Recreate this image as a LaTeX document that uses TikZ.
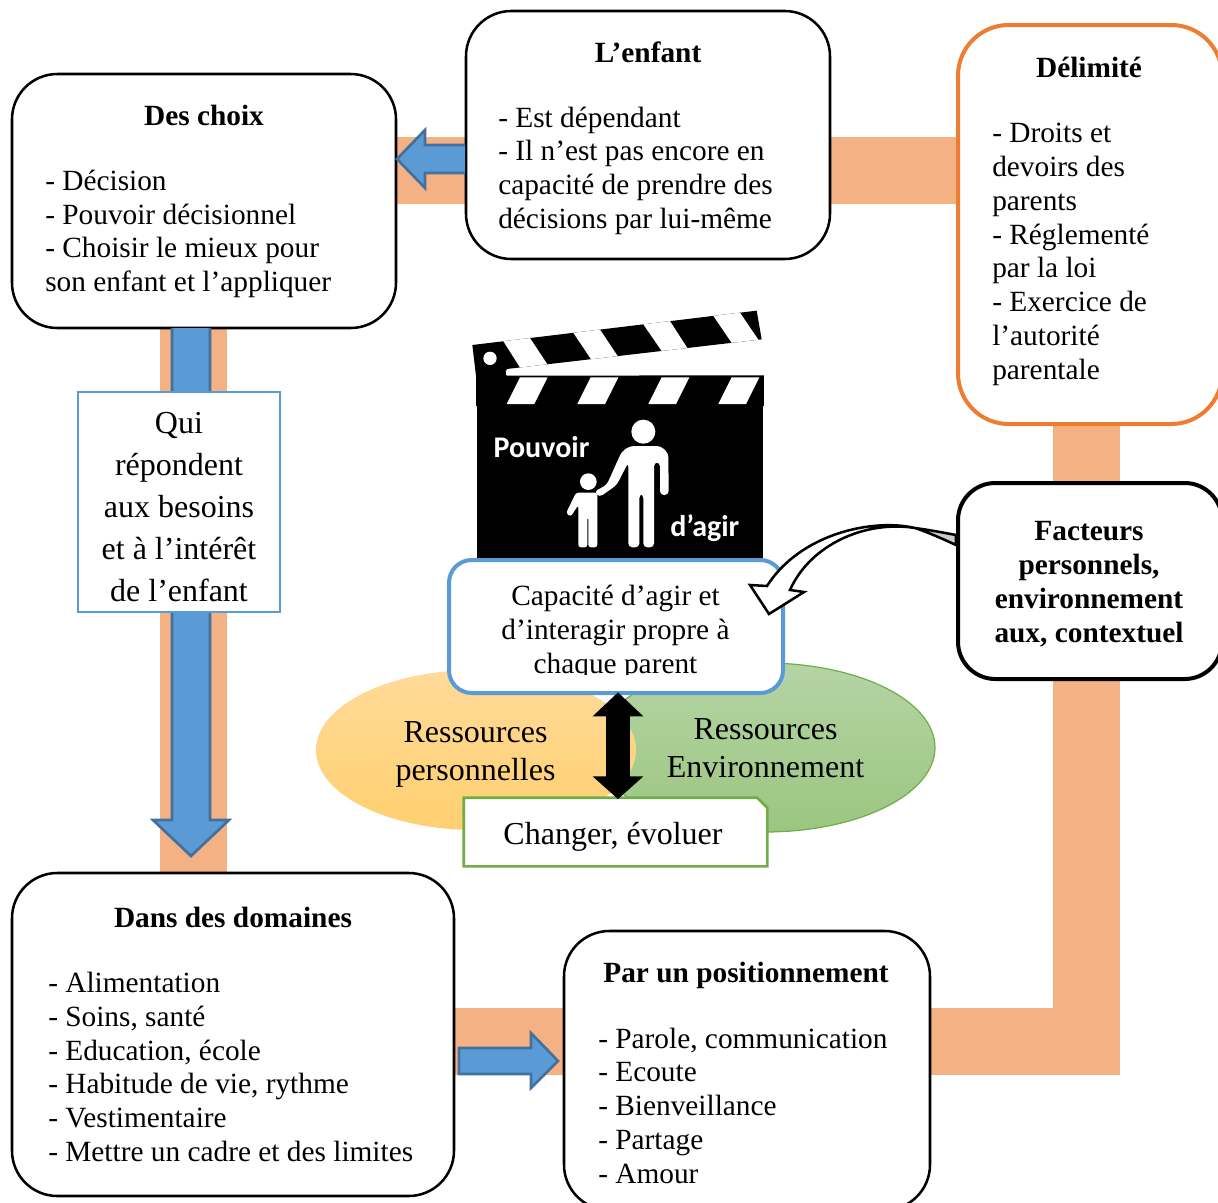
\documentclass[tikz,border=0pt]{standalone}
\usepackage{fontspec}
\setmainfont{Liberation Serif}
\newfontfamily\carl{Carlito}
\usetikzlibrary{backgrounds,shapes.geometric,arrows.meta,calc}
\definecolor{bandc}{HTML}{F4B183}
\definecolor{bluec}{HTML}{5B9BD5}
\definecolor{blueline}{HTML}{41719C}
\definecolor{orangec}{HTML}{ED7D31}
\definecolor{greenc}{HTML}{70AD47}
\tikzset{
  x=0.75pt,y=-0.75pt,
  boxnode/.style={draw=black,line width=1.9pt,fill=white,rounded corners=34pt,inner sep=0pt},
  band/.style={draw=bandc,line width=50.25pt,line join=miter},
  blockarrow/.style={fill=bluec,draw=blueline,line width=2pt,line join=miter},
  bodytxt/.style={anchor=north west,inner sep=0pt,align=left,font=\fontsize{22}{25.3}\selectfont},
  ctxt/.style={anchor=north,inner sep=0pt,align=center,font=\fontsize{22}{25.3}\selectfont},
  ttl/.style={anchor=base,inner sep=0pt,font=\fontsize{22}{25.3}\selectfont\bfseries},
  big/.style={anchor=north,inner sep=0pt,align=center,font=\fontsize{24}{#1}\selectfont},
  ribbon/.style={draw=black,line width=1.9pt,line join=miter},
}
\begin{document}
\begin{tikzpicture}
\clip (0,0) rectangle (1218,1203);
% clapperboard
\begin{scope}[shift={(440,300)},x=0.25pt,y=-0.25pt]
  \fill[black] (110,315) rectangle (968,775);
  \fill[black] (108,225) rectangle (972,318);
  \fill[black] (97,135) -- (950,32) -- (965,118) -- (200,207) -- (197,228) -- (108,228) -- cycle;
  \fill[white] (197,213) -- (965,122) -- (972,226) -- (200,227) -- cycle;
  \fill[black] (200,228) rectangle (972,318);
  \foreach \a/\b/\c/\d in {190/270/322/240,400/480/533/453,610/690/742/665,820/900/955/875}{
    \pgfmathsetmacro{\ya}{135-(\a-97)*0.1208}
    \pgfmathsetmacro{\yb}{135-(\b-97)*0.1208}
    \pgfmathsetmacro{\yc}{207-(\c-200)*0.1164}
    \pgfmathsetmacro{\yd}{207-(\d-200)*0.1164}
    \fill[white] (\a,\ya) -- (\b,\yb) -- (\c,\yc) -- (\d,\yd) -- cycle;
  }
  \foreach \a in {200,412,625,835}{
    \fill[white] (\a,312) -- (\a+40,232) -- (\a+123,232) -- (\a+83,312) -- cycle;
  }
  \fill[white] (150,175) circle (20);
  \fill[white] (610,395) circle (36);
  \fill[white,rounded corners=3pt] (570,438) -- (662,438) -- (685,460) -- (686,585) -- (660,585) -- (660,487) -- (642,487) -- (642,742) -- (610,742) -- (610,582) -- (598,582) -- (598,742) -- (565,742) -- (565,487) -- (530,555) -- (478,592) -- (462,575) -- (500,555) -- (545,455) -- cycle;
  \fill[white] (445,545) circle (25);
  \fill[white,rounded corners=2pt] (408,578) -- (472,578) -- (472,742) -- (445,742) -- (445,650) -- (442,650) -- (442,742) -- (415,742) -- (415,615) -- (392,650) -- (378,640) -- cycle;
  \node (pouv) [anchor=base west,inner sep=0pt,text=white,font=\fontsize{22.5}{24}\selectfont\carl\bfseries] at (160,472) {Pouvoir};
  \node (dag) [anchor=base west,inner sep=0pt,text=white,font=\fontsize{22.5}{24}\selectfont\carl\bfseries] at (690,708) {d’agir};
\end{scope}
% ellipses
\node (resE) [ellipse,draw=greenc,line width=0.9pt,inner sep=0pt,minimum width=255pt,minimum height=126.75pt,top color={rgb,255:red,181;green,212;blue,165},bottom color={rgb,255:red,155;green,198;blue,128}] at (765,747.5) {};
\node (resP) [ellipse,inner sep=0pt,minimum width=240pt,minimum height=120pt,top color={rgb,255:red,255;green,218;blue,153},bottom color={rgb,255:red,255;green,208;blue,112}] at (476,750) {};
% boxes
\node (choix) [boxnode,minimum width=288pt,minimum height=190.5pt] at (204,201) {};
\node (enfant) [boxnode,minimum width=273pt,minimum height=186pt] at (648,135) {};
\node (delim) [boxnode,draw=orangec,line width=3pt,rounded corners=38pt,minimum width=198pt,minimum height=299.25pt] at (1090,224.5) {};
\node (fact) [boxnode,line width=3pt,rounded corners=28pt,minimum width=198pt,minimum height=147pt] at (1090,581) {};
\node (dans) [boxnode,minimum width=331.5pt,minimum height=242.25pt] at (233,1034.5) {};
\node (par) [boxnode,minimum width=274.5pt,minimum height=209.25pt] at (747,1070.5) {};
% bands
\begin{scope}[on background layer]
  \draw[band] (choix.center |- 0,170.5) -- (delim.center |- 0,170.5);
  \draw[band] (193.5,0 |- choix.south) -- (193.5,0 |- dans.north);
  \draw[band] (dans.center |- 0,1041.5) -- (par.center |- 0,1041.5);
  \draw[band] (par.center |- 0,1041.5) -| (1086.5,0 |- delim.south);
\end{scope}
% block arrows
\draw[blockarrow] (465,145) -- (425,145) -- (425,130) -- (397,159) -- (425,188) -- (425,173) -- (465,173);
\draw[blockarrow] (172,328) -- (172,820) -- (153,820) -- (191,856) -- (229,820) -- (210,820) -- (210,328);
\draw[blockarrow] (459,1048) -- (531,1048) -- (531,1033) -- (558,1061) -- (531,1088) -- (531,1074) -- (459,1074) -- cycle;
\node (qui) [draw=bluec,line width=1.9pt,fill=white,inner sep=0pt,minimum width=151.5pt,minimum height=165pt] at (179,502) {};
\node (capa) [boxnode,draw=bluec,line width=3pt,rounded corners=17pt,minimum width=250.5pt,minimum height=99.75pt] at (616,626.5) {};
\node (chg) [inner sep=0pt,minimum width=227.25pt,minimum height=51pt] at (615.5,832) {};
\draw[draw=greenc,line width=1.9pt,fill=white,line join=miter] (chg.south west) -- (chg.north west) -- ($(chg.north east)+(-10,0)$) -- ($(chg.north east)+(0,10)$) -- (chg.south east) -- cycle;
\draw[line width=18pt,black,shorten <=-2pt,shorten >=-1pt,{Triangle[length=18pt,width=37pt]}-{Triangle[length=17pt,width=37pt]}] (618,0 |- capa.south) -- (618,0 |- chg.north);
% curved arrow
\draw[ribbon,fill=white] (915,528) .. controls (872,518) and (800,534) .. (767,586) -- (750,585) -- (769,614) -- (804,592) -- (790,590) .. controls (810,545) and (865,520) .. (915,528);
\draw[ribbon,fill=black!20] (915,528) .. controls (930,530) and (945,533) .. (fact.west |- 0,535) -- (fact.west |- 0,545) .. controls (945,540) and (930,533) .. (915,528);
% texts
\node (t1) [ttl] at (204,125) {Des choix};
\node (t1b) [bodytxt] at (45,166.4) {\strut - Décision\\- Pouvoir décisionnel\\- Choisir le mieux pour\\son enfant et l’appliquer};
\node (t2) [ttl] at (648,62) {L’enfant};
\node (t2b) [bodytxt] at (498,103.2) {\strut - Est dépendant\\- Il n’est pas encore en\\capacité de prendre des\\décisions par lui-même};
\node (t3) [ttl] at (1089,77) {Délimité};
\node (t3b) [bodytxt] at (992,119) {\strut - Droits et\\devoirs des\\parents\\- Réglementé\\par la loi\\- Exercice de\\l’autorité\\parentale};
\node (t4) [anchor=north,inner sep=0pt,align=center,font=\fontsize{22}{25.6}\selectfont\bfseries] at (1089,516.4) {\strut Facteurs\\personnels,\\environnement\\aux, contextuel};
\node (t5) [ttl] at (233,927) {Dans des domaines};
\node (t5b) [bodytxt] at (48,968.7) {\strut - Alimentation\\- Soins, santé\\- Education, école\\- Habitude de vie, rythme\\- Vestimentaire\\- Mettre un cadre et des limites};
\node (t6) [ttl] at (746,982) {Par un positionnement};
\node (t6b) [bodytxt] at (598,1024.2) {\strut - Parole, communication\\- Ecoute\\- Bienveillance\\- Partage\\- Amour};
\node (t7) [big=31.6] at (179,403.5) {\strut Qui\\répondent\\aux besoins\\et à l’intérêt\\de l’enfant};
\begin{scope}
  \clip (449,560) rectangle (783,674);
  \node (t8) [ctxt] at (615.5,582) {\strut Capacité d’agir et\\d’interagir propre à\\chaque parent};
\end{scope}
\node (t9) [big=28.5] at (475.5,716) {\strut Ressources\\personnelles};
\node (t10) [big=28.5] at (765.5,713) {\strut Ressources\\Environnement};
\node (t11) [anchor=base,inner sep=0pt,font=\fontsize{24}{28}\selectfont] at (613,844) {Changer, évoluer};
\useasboundingbox (0,0) rectangle (1218,1203);
\end{tikzpicture}
\end{document}
